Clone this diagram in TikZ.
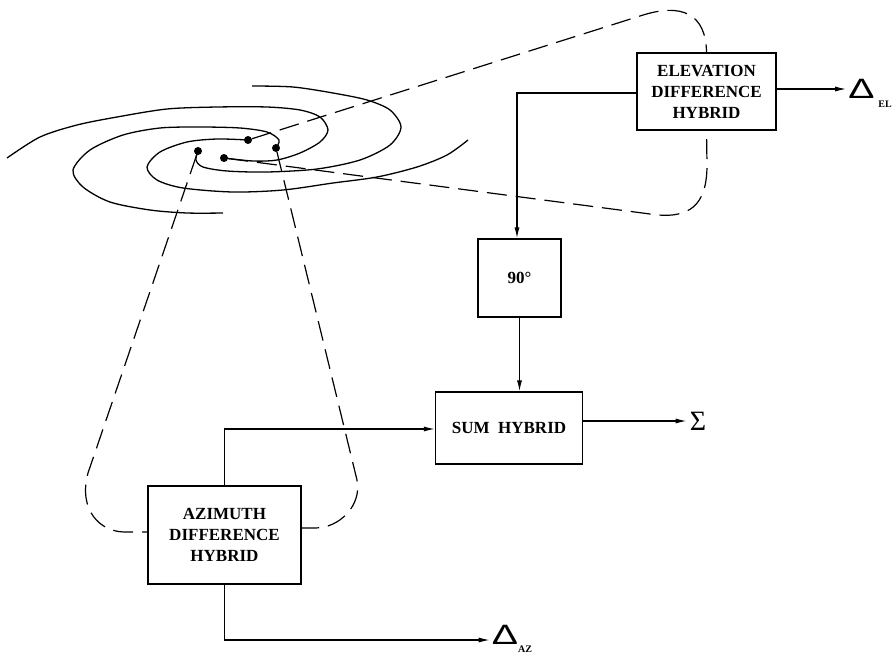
\documentclass[tikz,border=0pt]{standalone}
\usepackage{fontspec}
\setmainfont{Liberation Serif}
\newfontfamily\symfont{Liberation Sans}
\usetikzlibrary{shapes,arrows,arrows.meta,positioning,calc}

\tikzset{
  hybrid/.style={draw, rectangle, line width=1.2pt, align=center, font=\bfseries\fontsize{17}{21}\selectfont},
  feed/.style={circle, fill=black, inner sep=0pt, minimum size=8pt},
  arm/.style={line width=1.3pt},
  lead/.style={line width=1.2pt, dash pattern=on 20pt off 9pt},
  wire/.style={-{Latex[length=11pt,width=5pt]}, line width=1.2pt},
  port/.style={font=\symfont\fontsize{28}{28}\selectfont, inner sep=0pt},
  portsub/.style={font=\bfseries\fontsize{10}{10}\selectfont, inner sep=0pt}
}

\begin{document}
\begin{tikzpicture}[x=1pt,y=-1pt]
\useasboundingbox (0,0) rectangle (896,654);

\node[hybrid, minimum width=139pt, minimum height=77pt] (elev) at (706.5,91.5) {ELEVATION\\DIFFERENCE\\HYBRID};
\node[hybrid, minimum width=83pt, minimum height=78pt] (phase) at (519.5,278) {90°};
\node[hybrid, minimum width=147pt, minimum height=72pt] (sum) at (509,428) {SUM\ \ HYBRID};
\node[hybrid, minimum width=153pt, minimum height=98pt] (azim) at (224.5,535) {AZIMUTH\\DIFFERENCE\\HYBRID};

\node[port] (delel) at (861.5,89) {\scalebox{1.4}[1]{Δ}};
\node[portsub] (subel) at (885,104) {EL};
\node[port] (delaz) at (505,635) {\scalebox{1.4}[1]{Δ}};
\node[portsub] (subaz) at (525,649) {AZ};
\node[font=\fontsize{28}{28}\selectfont, inner sep=0pt] (total) at (698,421) {Σ};

\node[feed] (feeda) at (248,140) {};
\node[feed] (feedb) at (276,148) {};
\node[feed] (feedc) at (224,158) {};
\node[feed] (feedd) at (198,151) {};

% spiral arms
\draw[arm] plot[smooth] coordinates {(feedc) (253,161) (277,160) (300,153) (320,142) (328,130) (320,117) (300,110) (267,107) (217,107) (167,109) (117,117) (77,125) (40,137) (7,158)};
\draw[arm] plot[smooth] coordinates {(feeda) (217,139) (187,142) (160,152) (147,167) (157,180) (183,188) (233,192) (283,190) (333,183) (377,177) (417,167) (447,155) (468,140)};
\draw[arm] plot[smooth] coordinates {(feedd) (196,160) (203,167) (227,171) (267,172) (317,169) (360,160) (390,145) (401,127) (390,110) (367,100) (333,93) (293,87) (252,86)};
\draw[arm] plot[smooth] coordinates {(feedb) (279,140) (267,132) (240,128) (200,127) (160,128) (123,135) (90,150) (73,170) (83,187) (110,202) (150,210) (187,213) (223,213)};

% leads to the hybrids
\draw[lead] (feeda) -- (640,16) .. controls (682,2) and (706,14) .. (elev.north);
\draw[lead] (feedc) -- (650,214) .. controls (690,220) and (707,205) .. (707,165) -- (elev.south);
\draw[lead] (feedd) -- (88,473) .. controls (78,510) and (100,532) .. (125,532) -- ([yshift=3pt]azim.west);
\draw[lead] (feedb) -- (357,480) .. controls (362,505) and (340,528) .. (315,528) -- ([yshift=7pt]azim.east);

\draw[wire] ([yshift=-1.5pt]elev.west) -| (517,0 |- phase.north);
\draw[wire] (phase.south) -- (sum.north -| phase.south);
\draw[wire, shorten >=3pt] (sum.east |- total) -- (total.west);
\draw[wire] (azim.north) |- ([yshift=-1pt]sum.west);
\draw[wire, shorten >=2pt] (azim.south) |- (delaz.west |- 0,640);
\draw[wire, shorten >=2pt] ([yshift=2.5pt]elev.east) -- (delel.west);

\end{tikzpicture}
\end{document}
